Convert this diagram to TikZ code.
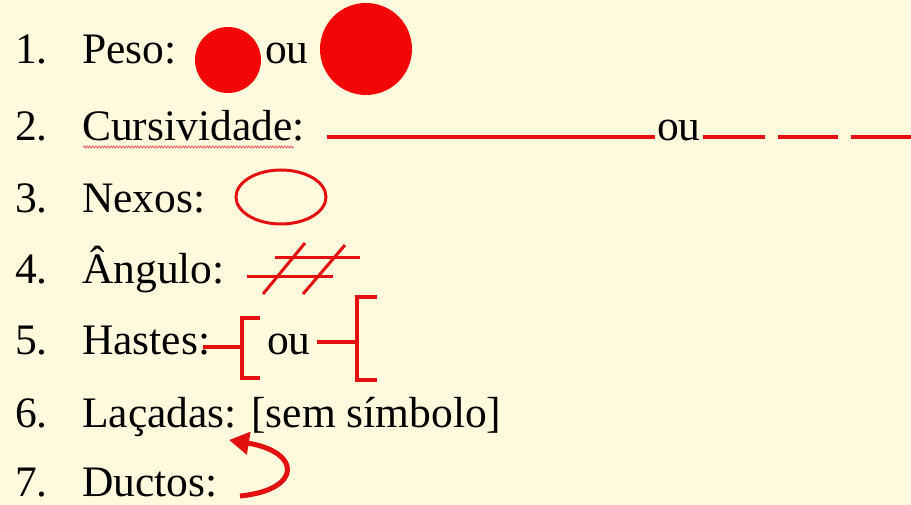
\documentclass[tikz,border=0pt]{standalone}
\usepackage{fontspec}
\setmainfont{Liberation Serif}
\usetikzlibrary{arrows.meta,decorations.pathmorphing}
\definecolor{bg}{RGB}{255,250,222}
\definecolor{mk}{RGB}{228,16,16}
\definecolor{dot}{RGB}{245,6,6}
\definecolor{wv}{RGB}{228,100,100}
\begin{document}
\begin{tikzpicture}[x=1pt,y=-1pt,
  lbl/.style={anchor=base west,inner sep=0pt,font=\fontsize{43.5}{43.5}\selectfont},
  redline/.style={draw=mk,line width=4.5pt},
  redthin/.style={draw=mk,line width=3pt}]
\fill[bg] (0,0) rectangle (911,505);
\useasboundingbox (0,0) rectangle (911,505);
% numbers
\node[lbl] (n1) at (15,64) {1.};
\node[lbl] (n2) at (15,141) {2.};
\node[lbl] (n3) at (15,213) {3.};
\node[lbl] (n4) at (15,284) {4.};
\node[lbl] (n5) at (15,355) {5.};
\node[lbl] (n6) at (15,427) {6.};
\node[lbl] (n7) at (15,496) {7.};
% labels
\node[lbl] (t1) at (82,64) {Peso:};
\node[lbl] (t2) at (82,141) {Cursividade:};
\node[lbl] (t3) at (82,213) {Nexos:};
\node[lbl] (t4) at (82,284) {Ângulo:};
\node[lbl] (t5) at (82,355) {Hastes:};
\node[lbl] (t6) at (82,427) {Laçadas: [sem símbolo]};
\node[lbl] (t7) at (82,496) {Ductos:};
% 1 peso
\fill[dot] (228,60) circle (33);
\node[lbl] (ou1) at (265,64) {ou};
\fill[dot] (366,49) circle (46);
% 2 cursividade
\draw[wv,line width=0.9pt,decorate,decoration={snake,amplitude=1pt,segment length=3pt}] (83,147) -- (294,147);
\draw[redline] (327,137) -- (655,137);
\node[lbl] (ou2) at (657,141) {ou};
\draw[redline] (703,137) -- (765,137);
\draw[redline] (778,137) -- (838,137);
\draw[redline] (851,137) -- (911,137);
% 3 nexos
\draw[redthin] (281,197) ellipse [x radius=45, y radius=27];
% 4 angulo
\draw[redthin] (247,277) -- (333,277);
\draw[redthin] (275,258) -- (360,258);
\draw[redthin] (305,243) -- (263,294);
\draw[redthin] (345,245) -- (303,294);
% 5 hastes
\draw[redline] (203,347) -- (242,347);
\draw[redline] (260,318) -- (242,318) -- (242,378) -- (260,378);
\node[lbl] (ou5) at (267,355) {ou};
\draw[redline] (317,342) -- (357,342);
\draw[redline] (377,297) -- (357,297) -- (357,380) -- (377,380);
% 7 ductos
\draw[mk,line width=5pt,-{Triangle[width=22pt,length=20pt]}] (240,496) .. controls (302,490) and (302,452) .. (229,440);
\end{tikzpicture}
\end{document}
